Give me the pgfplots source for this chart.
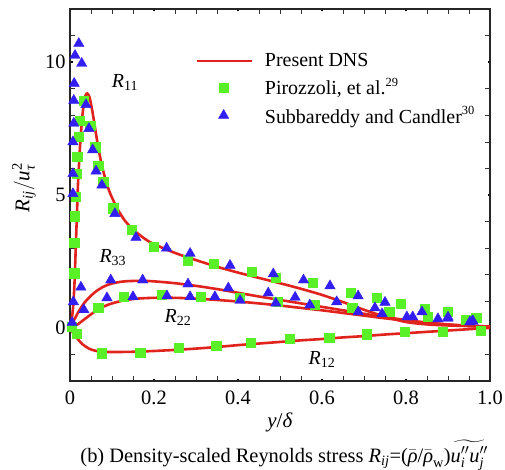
\documentclass[border=0pt]{standalone}
\usepackage{fontspec}
\setmainfont{Liberation Serif}
\usepackage{amsmath}
\usepackage{pgfplots}
\pgfplotsset{compat=1.18}
\definecolor{dnsred}{RGB}{225,35,30}
\definecolor{pirgreen}{RGB}{90,240,40}
\definecolor{subblue}{RGB}{50,30,240}
\newcommand{\refsup}[1]{\raisebox{0.42em}{\fontsize{12.5}{13}\selectfont #1}}
\begin{document}
\begin{tikzpicture}
\useasboundingbox (-70bp,-89bp) rectangle (435bp,381bp);
\begin{axis}[
  at={(0,0)}, anchor=south west,
  scale only axis, width=420bp, height=372bp,
  xmin=0, xmax=1, ymin=-2, ymax=12,
  clip=false,
  xtick={0,0.2,0.4,0.6,0.8,1.0},
  xticklabels={0,0.2,0.4,0.6,0.8,1.0},
  ytick={0,5,10},
  minor xtick={0.05,0.1,0.15,0.25,0.3,0.35,0.45,0.5,0.55,0.65,0.7,0.75,0.85,0.9,0.95},
  minor ytick={-1,1,2,3,4,6,7,8,9,11},
  tick align=inside,
  major tick length=2.5bp, minor tick length=5bp,
  every major tick/.append style={line width=2bp, black},
  every minor tick/.append style={line width=0.6bp, black!80},
  axis line style={line width=1.2bp, black!85},
  /pgf/number format/assume math mode=true,
  tick label style={font=\fontsize{20.5}{24}\selectfont},
  xticklabel style={yshift=-6bp},
  yticklabel style={xshift=-1bp},
  legend style={at={(axis description cs:0.298,0.886)}, anchor=north west,
    draw=none, fill=none, font=\fontsize{20}{24}\selectfont, row sep=6bp,
    inner sep=0bp, cells={anchor=west},
    /tikz/every odd column/.append style={column sep=10bp}},
  legend cell align=left,
  legend image code/.code={\draw[mark repeat=2,mark phase=2,#1] plot coordinates {(0bp,0bp)(27bp,0bp)(55bp,0bp)};},
]
% DNS curves
\addplot[dnsred, line width=2.6bp, smooth, no markers] coordinates {
(0,0)(0.004,0.3)(0.008,0.9)(0.011,1.8)(0.013,2.7)(0.015,3.6)(0.017,4.5)(0.019,5.4)(0.022,6.3)(0.025,7.1)(0.029,7.9)(0.033,8.45)(0.037,8.75)(0.041,8.82)(0.046,8.7)(0.051,8.35)(0.057,7.8)(0.064,7.1)(0.072,6.4)(0.08,5.85)(0.09,5.3)(0.1,4.9)(0.115,4.42)(0.13,4.05)(0.145,3.78)(0.16,3.57)(0.18,3.33)(0.2,3.15)(0.25,2.82)(0.3,2.55)(0.35,2.3)(0.4,2.08)(0.45,1.88)(0.5,1.68)(0.55,1.47)(0.6,1.24)(0.65,0.97)(0.7,0.68)(0.75,0.42)(0.8,0.22)(0.85,0.13)(0.9,0.09)(0.95,0.07)(1.0,0.05)};
\addlegendentry{Present DNS}
\addplot[dnsred, line width=2.6bp, smooth, no markers, forget plot] coordinates {
(0,0)(0.01,0.3)(0.02,0.6)(0.03,0.85)(0.04,1.05)(0.06,1.35)(0.08,1.55)(0.1,1.67)(0.13,1.75)(0.17,1.77)(0.2,1.75)(0.25,1.68)(0.3,1.58)(0.35,1.46)(0.4,1.32)(0.45,1.18)(0.5,1.05)(0.55,0.92)(0.6,0.79)(0.65,0.66)(0.7,0.53)(0.75,0.41)(0.8,0.29)(0.85,0.2)(0.9,0.13)(0.95,0.08)(1.0,0.05)};
\addplot[dnsred, line width=2.6bp, smooth, no markers, forget plot] coordinates {
(0,0)(0.01,0.06)(0.02,0.15)(0.03,0.27)(0.045,0.45)(0.06,0.62)(0.08,0.8)(0.1,0.92)(0.13,1.04)(0.16,1.1)(0.2,1.13)(0.25,1.13)(0.3,1.1)(0.35,1.05)(0.4,0.99)(0.45,0.92)(0.5,0.84)(0.55,0.75)(0.6,0.66)(0.65,0.56)(0.7,0.46)(0.75,0.36)(0.8,0.27)(0.85,0.19)(0.9,0.12)(0.95,0.07)(1.0,0.03)};
\addplot[dnsred, line width=2.6bp, smooth, no markers, forget plot] coordinates {
(0,0)(0.01,-0.25)(0.02,-0.45)(0.03,-0.62)(0.045,-0.78)(0.06,-0.86)(0.08,-0.9)(0.1,-0.91)(0.15,-0.9)(0.2,-0.87)(0.25,-0.83)(0.3,-0.78)(0.35,-0.72)(0.4,-0.65)(0.45,-0.59)(0.5,-0.53)(0.55,-0.47)(0.6,-0.42)(0.65,-0.36)(0.7,-0.31)(0.75,-0.25)(0.8,-0.2)(0.85,-0.15)(0.9,-0.1)(0.95,-0.05)(1.0,0.0)};
% Pirozzoli squares
\addplot[only marks, mark=square*, mark size=4.6bp, mark options={draw=pirgreen, fill=pirgreen}] coordinates {
(0.01,2.06)(0.01,3.2)(0.012,4.2)(0.014,4.95)(0.016,5.8)(0.017,6.45)(0.021,7.2)(0.024,7.8)(0.033,8.56)(0.048,7.6)(0.06,6.8)(0.067,6.1)(0.079,5.5)(0.103,4.5)(0.147,3.68)(0.2,3.05)(0.281,2.55)(0.343,2.4)(0.433,2.1)(0.49,1.88)(0.578,1.69)(0.669,1.31)(0.73,1.13)(0.788,0.9)(0.845,0.71)(0.9,0.6)(0.967,0.38)};
\addlegendentry{Pirozzoli, et al.\refsup{29}}
\addplot[only marks, mark=square*, mark size=4.6bp, mark options={draw=pirgreen, fill=pirgreen}, forget plot] coordinates {
(0.004,0.05)(0.067,0.75)(0.127,1.17)(0.219,1.25)(0.312,1.17)(0.404,1.12)(0.495,0.98)(0.583,0.86)(0.672,0.75)(0.76,0.6)(0.852,0.41)(0.943,0.3)};
\addplot[only marks, mark=square*, mark size=4.6bp, mark options={draw=pirgreen, fill=pirgreen}, forget plot] coordinates {
(0.016,-0.22)(0.075,-0.95)(0.167,-0.92)(0.258,-0.75)(0.348,-0.66)(0.43,-0.56)(0.524,-0.42)(0.617,-0.36)(0.707,-0.24)(0.797,-0.15)(0.887,-0.13)(0.977,-0.12)};
% Subbareddy triangles
\addplot[only marks, mark=triangle*, mark size=6bp, mark options={draw=subblue, fill=subblue}] coordinates {
(0.007,5.05)(0.007,5.8)(0.007,7.0)(0.009,7.7)(0.009,8.56)(0.01,9.2)(0.012,10.25)(0.021,10.7)(0.028,9.95)(0.038,8.4)(0.045,7.5)(0.054,6.7)(0.062,5.9)(0.076,5.37)(0.107,4.3)(0.157,3.4)(0.23,3.0)(0.286,2.8)(0.381,2.35)(0.484,2.03)(0.556,1.8)(0.619,1.58)(0.686,1.2)(0.75,0.96)(0.838,0.6)(0.9,0.4)(0.958,0.26)};
\addlegendentry{Subbareddy and Candler\refsup{30}}
\addplot[only marks, mark=triangle*, mark size=6bp, mark options={draw=subblue, fill=subblue}, forget plot] coordinates {
(0.008,0.98)(0.026,1.53)(0.097,1.8)(0.173,1.8)(0.281,1.65)(0.377,1.5)(0.472,1.31)(0.536,1.15)(0.635,0.98)(0.726,0.75)(0.802,0.41)(0.876,0.34)(0.952,0.22)};
\addplot[only marks, mark=triangle*, mark size=6bp, mark options={draw=subblue, fill=subblue}, forget plot] coordinates {
(0.005,0.2)(0.033,0.68)(0.088,1.13)(0.15,1.17)(0.231,1.2)(0.286,1.17)(0.345,1.17)(0.405,1.03)(0.49,0.93)(0.571,0.86)(0.686,0.6)(0.743,0.53)(0.816,0.41)(0.9,0.36)(0.96,0.24)};
% curve labels
\node[font=\fontsize{20}{24}\selectfont] at (axis cs:0.131,9.24) {\textit{R}\textsubscript{11}};
\node[font=\fontsize{20}{24}\selectfont] at (axis cs:0.102,2.63) {\textit{R}\textsubscript{33}};
\node[font=\fontsize{20}{24}\selectfont] at (axis cs:0.257,0.38) {\textit{R}\textsubscript{22}};
\node[font=\fontsize{20}{24}\selectfont] at (axis cs:0.6,-1.2) {\textit{R}\textsubscript{12}};
% axis labels
\node[font=\fontsize{21}{24}\selectfont, xshift=-46bp, rotate=90] at (rel axis cs:0,0.52) {$\textit{R}_{\textit{ij}}/\textit{u}_{\textit{τ}}^{\text{2}}$};
\node[font=\fontsize{21}{24}\selectfont, yshift=-41bp] at (rel axis cs:0.5,0) {\textit{y}/\textit{δ}};
\node[font=\fontsize{20.5}{24}\selectfont, anchor=base, yshift=-81bp] at (rel axis cs:0.51,0) {(b) Density-scaled Reynolds stress $\textit{R}_{\textit{ij}}\text{=(}\bar{\textit{ρ}}\text{/}\bar{\textit{ρ}}_{\text{w}}\text{)}\widetilde{\textit{u}''_{\textit{i}}\textit{u}''_{\textit{j}}}$};
\end{axis}
\end{tikzpicture}
\end{document}
